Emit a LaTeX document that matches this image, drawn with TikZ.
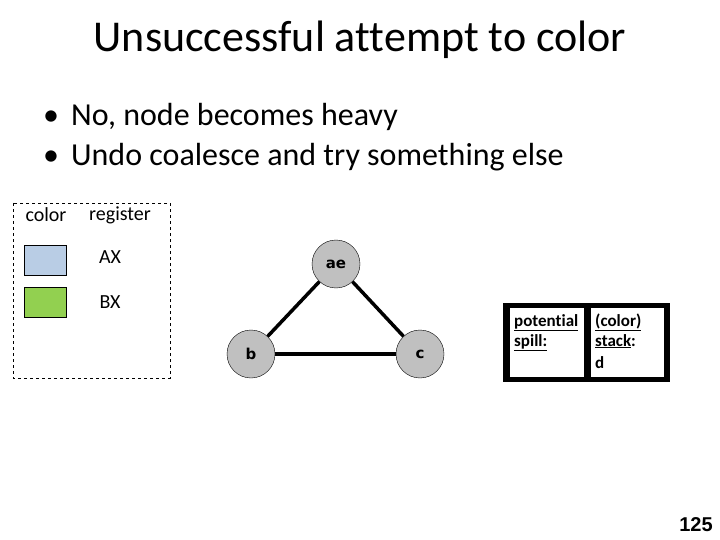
\documentclass[tikz,border=0pt]{standalone}
\usepackage{fontspec}
\setmainfont{Carlito}[Ligatures=NoCommon]
\newfontfamily\arialfont{Liberation Sans}
\newfontfamily\nodefont{DejaVu Sans}
\definecolor{regblue}{HTML}{B9CDE5}
\definecolor{reggreen}{HTML}{92D050}
\definecolor{nodegray}{HTML}{C0C0C0}
\begin{document}
\begin{tikzpicture}[x=1pt,y=-1pt,
  gnode/.style={circle,draw=black,fill=nodegray,minimum size=48pt,inner sep=0pt,font=\nodefont\bfseries\fontsize{15}{17}\selectfont},
  gedge/.style={line width=3.5pt},
  swatch/.style={draw=black,line width=0.8pt,minimum width=42pt,minimum height=30pt,inner sep=0pt},
  legtxt/.style={font=\fontsize{20}{24}\selectfont,inner sep=0pt},
  spilltxt/.style={font=\bfseries\fontsize{17}{20}\selectfont,inner sep=0pt,anchor=base west}]
\useasboundingbox (0,0) rectangle (720,540);
% title
\node[font=\fontsize{44}{52}\selectfont] (title) at (360,40) {Unsuccessful attempt to color};
% bullets
\node[font=\fontsize{32}{38}\selectfont,anchor=base west,inner sep=0pt] (b1) at (43,126) {\textbullet\hspace{12pt}No, node becomes heavy};
\node[font=\fontsize{32}{38}\selectfont,anchor=base west,inner sep=0pt] (b2) at (43,166) {\textbullet\hspace{12pt}Undo coalesce and try something else};
% legend
\draw[dashed,line width=0.8pt] (13,203) rectangle (170,378);
\node[legtxt] (lcolor) at (46,215) {color};
\node[legtxt] (lreg) at (120,215) {register};
\node[swatch,fill=regblue] (sw1) at (45,260) {};
\node[swatch,fill=reggreen] (sw2) at (45,302) {};
\node[legtxt] (ax) at (110,257) {AX};
\node[legtxt] (bx) at (110,302) {BX};
% graph
\node[gnode] (ae) at (336,264) {ae};
\node[gnode] (b) at (251,354) {b};
\node[gnode] (c) at (420,354) {c};
\draw[gedge] (ae) -- (b);
\draw[gedge] (ae) -- (c);
\draw[gedge] (b) -- (c);
% spill box
\fill[black] (503,303) rectangle (670,382);
\fill[white] (510,308) rectangle (584,377);
\fill[white] (591,308) rectangle (664,377);
\node[spilltxt] (p1) at (514,326) {\underline{potential}};
\node[spilltxt] (p2) at (514,346) {\underline{spill:}};
\node[spilltxt] (s1) at (595,326) {\underline{(color)}};
\node[spilltxt] (s2) at (595,346) {\underline{stack}:};
\node[spilltxt] (s3) at (595,368) {d};
% page number
\node[font=\arialfont\bfseries\fontsize{20}{24}\selectfont] (pg) at (696,525) {125};
\end{tikzpicture}
\end{document}
